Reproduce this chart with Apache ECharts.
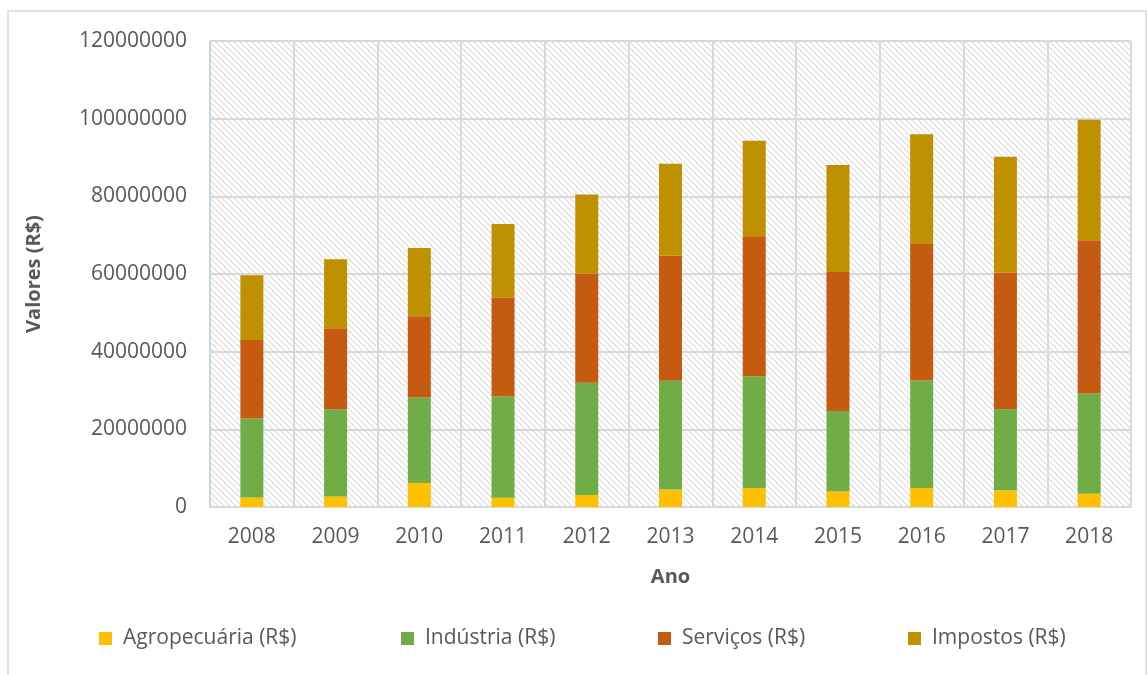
<!DOCTYPE html>
<html>
<head>
<meta charset="utf-8">
<script src="https://cdn.jsdelivr.net/npm/echarts@6/dist/echarts.min.js"></script>
<style>
  html, body { margin: 0; padding: 0; background: #ffffff; }
  #chart { width: 1147px; height: 675px; }
</style>
</head>
<body>
<div id="chart"></div>
<script>
// Composição do PIB por setor, 2008–2018 (valores em R$)
const anos = ['2008', '2009', '2010', '2011', '2012', '2013', '2014', '2015', '2016', '2017', '2018'];
const agropecuaria = [2450000, 2700000, 6200000, 2400000, 3100000, 4500000, 4900000, 4000000, 4900000, 4300000, 3400000];
const industria = [20350000, 22500000, 22000000, 26100000, 28900000, 28000000, 28800000, 20700000, 27700000, 20900000, 25900000];
const servicos = [20200000, 20800000, 20900000, 25400000, 28100000, 32200000, 35800000, 35800000, 35300000, 35200000, 39400000];
const impostos = [16700000, 17800000, 17600000, 19000000, 20400000, 23700000, 24800000, 27600000, 28100000, 29800000, 31000000];
const nomesSeries = ['Agropecuária (R$)', 'Indústria (R$)', 'Serviços (R$)', 'Impostos (R$)'];
const coresSeries = ['#FFC000', '#70AD47', '#C55A11', '#BF9000'];

// Hachura diagonal do fundo da área de plotagem
function hatchTile() {
  const c = document.createElement('canvas');
  const s = 6;
  c.width = s; c.height = s;
  const ctx = c.getContext('2d');
  ctx.fillStyle = '#ffffff';
  ctx.fillRect(0, 0, s, s);
  ctx.strokeStyle = '#dadada';
  ctx.lineWidth = 1.1;
  ctx.beginPath();
  ctx.moveTo(-1, -1); ctx.lineTo(s + 1, s + 1);
  ctx.moveTo(-1, s - 1); ctx.lineTo(1, s + 1);
  ctx.moveTo(s - 1, -1); ctx.lineTo(s + 1, 1);
  ctx.stroke();
  return c;
}

const fonte = '"Open Sans", "Noto Sans", sans-serif';
const corTexto = '#595959';
const valores = [agropecuaria, industria, servicos, impostos];
const legendLeft = [94, 396, 653, 903];

const chart = echarts.init(document.getElementById('chart'), null, { renderer: 'canvas' });

chart.setOption({
  animation: false,
  backgroundColor: '#ffffff',
  textStyle: { fontFamily: fonte, color: corTexto },
  graphic: [{
    type: 'rect',
    shape: { x: 8, y: 11, width: 1138, height: 700 },
    style: { fill: 'none', stroke: '#d9d9d9', lineWidth: 1.5 },
    silent: true,
    z: -10
  }],
  grid: {
    left: 210, right: 16, top: 41, bottom: 168,
    show: true,
    borderWidth: 0,
    backgroundColor: { image: hatchTile(), repeat: 'repeat' }
  },
  legend: nomesSeries.map((n, i) => ({
    data: [n],
    left: legendLeft[i],
    top: 623,
    icon: 'rect',
    itemWidth: 13,
    itemHeight: 13,
    itemGap: 10,
    textStyle: { fontFamily: fonte, fontSize: 21, color: corTexto, padding: [0, 0, 0, 6] }
  })),
  xAxis: {
    type: 'category',
    data: anos,
    name: 'Ano',
    nameLocation: 'middle',
    nameGap: 60,
    nameTextStyle: { fontFamily: fonte, fontSize: 20, fontWeight: 'bold', color: corTexto },
    axisLine: { show: true, lineStyle: { color: '#d9d9d9', width: 2 } },
    axisTick: { show: false },
    axisLabel: { fontFamily: fonte, fontSize: 21, color: corTexto, margin: 20 },
    splitLine: { show: true, lineStyle: { color: '#d9d9d9', width: 2 } }
  },
  yAxis: {
    type: 'value',
    min: 0,
    max: 120000000,
    interval: 20000000,
    name: 'Valores (R$)',
    nameLocation: 'middle',
    nameGap: 166,
    nameRotate: 90,
    nameTextStyle: { fontFamily: fonte, fontSize: 20, fontWeight: 'bold', color: corTexto },
    axisLine: { show: true, lineStyle: { color: '#bdd7ee', width: 1.5 } },
    axisTick: { show: false },
    axisLabel: {
      fontFamily: fonte, fontSize: 21, color: corTexto, margin: 23,
      formatter: v => String(v)
    },
    splitLine: { show: true, lineStyle: { color: '#d9d9d9', width: 2 } }
  },
  series: nomesSeries.map((n, i) => ({
    name: n,
    type: 'bar',
    stack: 'pib',
    barWidth: 23,
    data: valores[i],
    itemStyle: { color: coresSeries[i] }
  })),
  color: coresSeries
});
</script>
</body>
</html>
